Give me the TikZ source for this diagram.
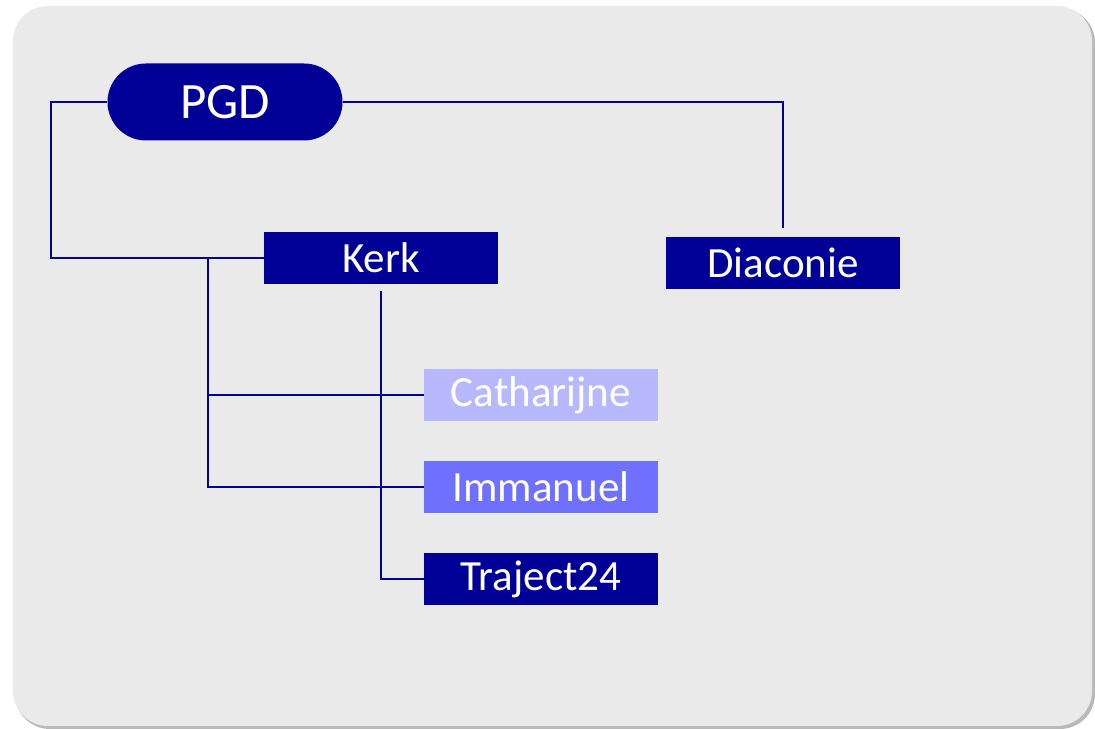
\documentclass[tikz,border=0pt]{standalone}
\usepackage{fontspec}
\setmainfont{Carlito}
\definecolor{pgdblue}{RGB}{0,0,150}
\definecolor{lightvio}{RGB}{184,184,255}
\definecolor{midvio}{RGB}{112,112,255}
\definecolor{panel}{RGB}{234,234,234}
\begin{document}
\begin{tikzpicture}[
  box/.style={fill=pgdblue, text=white, minimum width=4.68cm, minimum height=1.04cm,
    inner sep=0pt, font=\fontsize{24.5}{27}\selectfont},
  link/.style={draw=pgdblue, line width=1.5pt}]
  \useasboundingbox (0,0) rectangle (21.9,14.58);
  \fill[gray!55, rounded corners=0.7cm] (0.3,0.0) rectangle (21.9,14.42);
  \fill[panel, rounded corners=0.7cm] (0.26,0.06) rectangle (21.84,14.46);
  \node[fill=pgdblue, text=white, minimum width=4.7cm, minimum height=1.54cm,
    rounded corners=0.77cm, inner sep=0pt, font=\fontsize{29}{32}\selectfont] (pgd) at (4.5,12.54) {PGD};
  \node[box] (kerk) at (7.62,9.42) {Kerk};
  \node[box] (diac) at (15.66,9.32) {Diaconie};
  \node[box, fill=lightvio] (cath) at (10.82,6.68) {Catharijne};
  \node[box, fill=midvio] (imm) at (10.82,4.84) {Immanuel};
  \node[box] (traj) at (10.82,3.0) {Traject24};
  \coordinate (fork) at (4.16,9.42);
  \draw[link] (pgd.west) -- ++(-1.12,0) |- (kerk.west);
  \draw[link] (pgd.east) -| ([yshift=0.18cm]diac.north);
  \draw[link] (fork) |- (cath.west);
  \draw[link] (fork) |- (imm.west);
  \draw[link] ([yshift=-0.14cm]kerk.south) |- (traj.west);
\end{tikzpicture}
\end{document}
